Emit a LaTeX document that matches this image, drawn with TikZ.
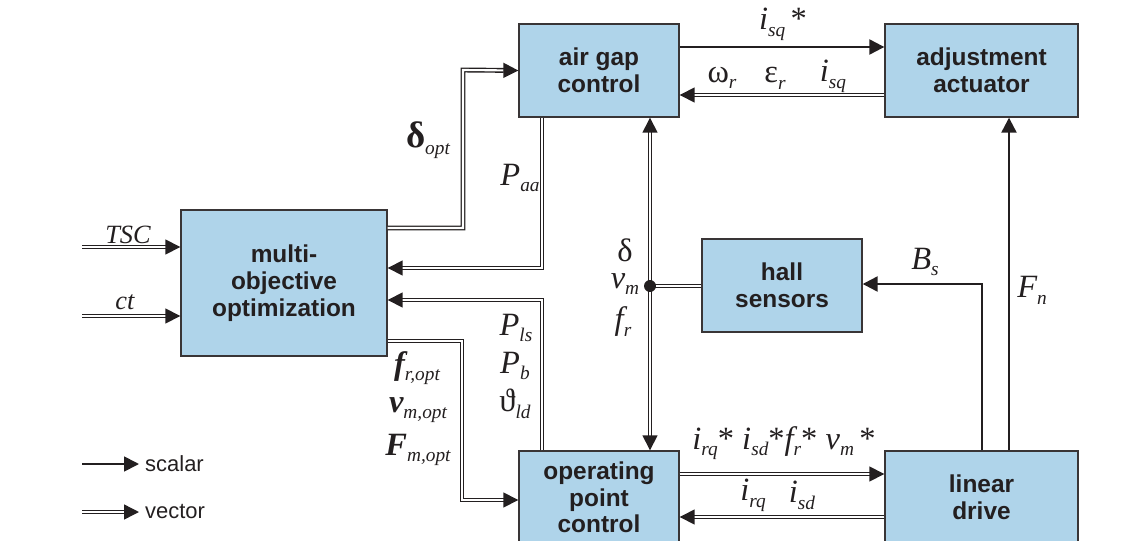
\documentclass[tikz,border=0pt]{standalone}
\usepackage{fontspec}
\setmainfont{Liberation Sans}
\newfontfamily\symfont{Liberation Serif}
\usetikzlibrary{arrows.meta}
\definecolor{boxblue}{RGB}{175,212,234}
\definecolor{ink}{RGB}{35,31,32}
\newcommand{\sy}[2]{{#1}\raisebox{-0.45ex}{\fontsize{11}{12}\selectfont\mdseries\itshape #2}}

\begin{document}
\begin{tikzpicture}[x=0.02cm, y=-0.02cm,
    block/.style={rectangle, draw=ink!90, line width=0.8pt, fill=boxblue, text=ink,
                  minimum width=3.2cm, minimum height=1.86cm, align=center,
                  font=\bfseries\fontsize{13.9}{15.2}\selectfont},
    sca/.style={-{Triangle[length=8.5pt,width=8.5pt]}, line width=1.3pt, draw=ink},
    vecline/.style={double, line width=0.8pt, double distance=1.2pt, draw=ink},
    vec/.style={vecline, -{Triangle[length=8.5pt,width=8.5pt]}},
    lbl/.style={inner sep=0pt, text=ink, font=\symfont\fontsize{18.5}{20}\selectfont\itshape}
]
\path[use as bounding box, clip] (0,0) rectangle (1143,541);

\node[block] (agc) at (599,70.5) {air gap\\control};
\node[block, minimum width=3.86cm] (act) at (981.5,70.5) {adjustment\\actuator};
\node[block, minimum width=4.12cm, minimum height=2.92cm] (moo) at (284,283) {multi-\\objective\\optimization};
\node[block] (hall) at (782,285.5) {hall\\sensors};
\node[block] (opc) at (599,497.5) {operating\\point\\control};
\node[block, minimum width=3.86cm] (lin) at (981.5,497.5) {linear\\drive};

\coordinate (jn) at (650,286);
\coordinate (tsc) at (82,247);
\coordinate (ct) at (82,316);

\draw[sca] (agc.east |- 0,47) -- (act.west |- 0,47);
\draw[vec] (act.west |- 0,95) -- (agc.east |- 0,95);
\draw[vec] (moo.east |- 0,228) -| (463,70) -- (agc.west);
\draw[vec] (agc.south -| 542,0) |- (moo.east |- 0,268);
\draw[vec] (opc.north -| 542,0) |- (moo.east |- 0,300);
\draw[vec] (moo.east |- 0,341) -| (462,500) -- (opc.west |- 0,500);
\draw[vec] (jn) -- (agc.south -| jn);
\draw[vec] (jn) -- (opc.north -| jn);
\draw[vecline] (hall.west |- jn) -- (jn);
\fill[ink] (jn) circle (3.4pt);
\draw[sca] (lin.north -| 982,0) |- (hall.east |- 0,284);
\draw[sca] (lin.north -| 1009,0) -- (act.south -| 1009,0);
\draw[vec] (opc.east |- 0,474) -- (lin.west |- 0,474);
\draw[vec] (lin.west |- 0,517) -- (opc.east |- 0,517);
\draw[vec] (tsc) -- (moo.west |- tsc);
\draw[vec] (ct) -- (moo.west |- ct);

\node[lbl] (lisr) at (783,24) {\sy{i}{sq}\,{\upshape*}};
\node[lbl] (lom) at (722,78) {\sy{\upshape ω}{r}};
\node[lbl] (leps) at (775,78) {\sy{\upshape ε}{r}};
\node[lbl] (lisq) at (833,76) {\sy{i}{sq}};
\node[lbl] (ldopt) at (428,140) {\sy{\upshape\bfseries\fontsize{21}{21}\selectfont δ}{opt}};
\node[lbl] (lpaa) at (520,178) {\sy{P}{aa}};
\node[lbl] (ldel) at (625,250) {\upshape δ};
\node[lbl] (lvm) at (625,284) {\sy{v}{m}};
\node[lbl] (lfr) at (623,322) {\sy{f}{r}};
\node[lbl] (lpls) at (516,328) {\sy{P}{ls}};
\node[lbl] (lpb) at (515,366) {\sy{P}{b}};
\node[lbl] (lthe) at (515,404) {\sy{\upshape ϑ}{ld}};
\node[lbl] (lfo) at (417,368) {\sy{\bfseries f}{r,opt}};
\node[lbl] (lvo) at (418,410) {\sy{\bfseries v}{m,opt}};
\node[lbl] (lFo) at (418,450) {\sy{\bfseries F}{m,opt}};
\node[lbl] (lref) at (784,443) {\sy{i}{rq}{\upshape*} \sy{i}{sd}{\upshape*}\sy{f}{r}{\upshape*} \sy{v}{m}\,{\upshape*}};
\node[lbl] (lirq) at (753,495) {\sy{i}{rq}};
\node[lbl] (lisd) at (802,495) {\sy{i}{sd}};
\node[lbl] (lbs) at (925,262) {\sy{B}{s}};
\node[lbl] (lfn) at (1032,290) {\sy{F}{n}};
\node[lbl, font=\symfont\fontsize{15}{17}\selectfont\itshape] (ltsc) at (128,235) {TSC};
\node[lbl, font=\symfont\fontsize{15}{17}\selectfont\itshape] (lct) at (125,302) {ct};

\coordinate (lsa) at (82,464);
\coordinate (lva) at (82,512);
\node[anchor=west, text=ink, font=\fontsize{12.5}{14}\selectfont] (lsc) at (139,464) {scalar};
\node[anchor=west, text=ink, font=\fontsize{12.5}{14}\selectfont] (lve) at (139,512) {vector};
\draw[sca, line width=1pt] (lsa) -- (lsc.west);
\draw[vec] (lva) -- (lve.west);
\end{tikzpicture}
\end{document}
